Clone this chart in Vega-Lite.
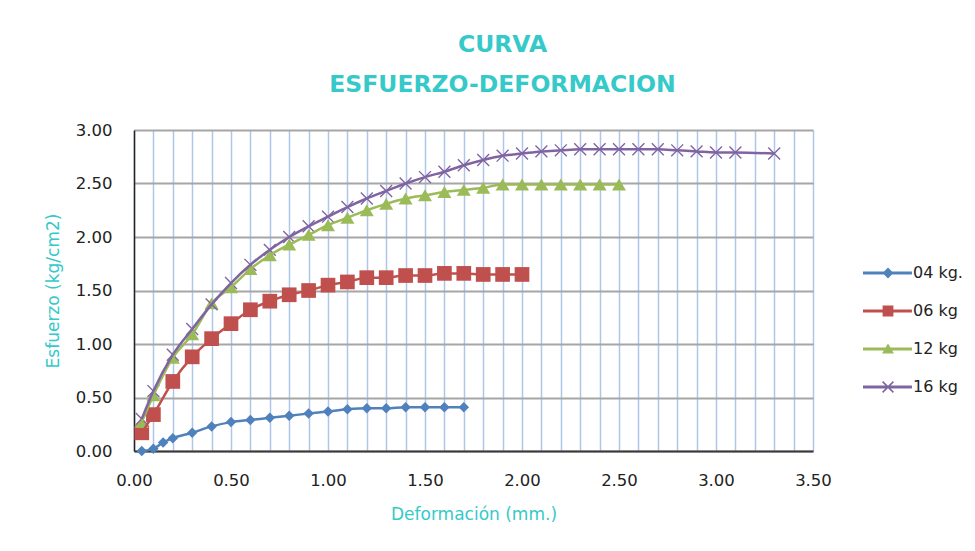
{
  "$schema": "https://vega.github.io/schema/vega-lite/v6.json",
  "width": 679,
  "height": 321,
  "autosize": {"type": "none"},
  "padding": {"left": 134, "top": 130, "right": 162, "bottom": 100},
  "background": "white",
  "config": {
    "view": {"stroke": null},
    "font": "DejaVu Sans"
  },
  "title": {
    "text": ["CURVA", "ESFUERZO-DEFORMACION"],
    "anchor": "middle",
    "frame": "group",
    "font": "DejaVu Sans",
    "fontSize": 23.5,
    "fontWeight": "bold",
    "color": "#36C9C9",
    "lineHeight": 39.5,
    "offset": 26,
    "dx": 29
  },
  "data": {
    "values": [
      {"series": "04 kg.", "x": 0.04, "y": 0.0},
      {"series": "04 kg.", "x": 0.1, "y": 0.02},
      {"series": "04 kg.", "x": 0.15, "y": 0.08},
      {"series": "04 kg.", "x": 0.2, "y": 0.12},
      {"series": "04 kg.", "x": 0.3, "y": 0.17},
      {"series": "04 kg.", "x": 0.4, "y": 0.23},
      {"series": "04 kg.", "x": 0.5, "y": 0.27},
      {"series": "04 kg.", "x": 0.6, "y": 0.29},
      {"series": "04 kg.", "x": 0.7, "y": 0.31},
      {"series": "04 kg.", "x": 0.8, "y": 0.33},
      {"series": "04 kg.", "x": 0.9, "y": 0.35},
      {"series": "04 kg.", "x": 1.0, "y": 0.37},
      {"series": "04 kg.", "x": 1.1, "y": 0.39},
      {"series": "04 kg.", "x": 1.2, "y": 0.4},
      {"series": "04 kg.", "x": 1.3, "y": 0.4},
      {"series": "04 kg.", "x": 1.4, "y": 0.41},
      {"series": "04 kg.", "x": 1.5, "y": 0.41},
      {"series": "04 kg.", "x": 1.6, "y": 0.41},
      {"series": "04 kg.", "x": 1.7, "y": 0.41},
      {"series": "06 kg", "x": 0.04, "y": 0.17},
      {"series": "06 kg", "x": 0.1, "y": 0.34},
      {"series": "06 kg", "x": 0.2, "y": 0.65},
      {"series": "06 kg", "x": 0.3, "y": 0.88},
      {"series": "06 kg", "x": 0.4, "y": 1.05},
      {"series": "06 kg", "x": 0.5, "y": 1.19},
      {"series": "06 kg", "x": 0.6, "y": 1.32},
      {"series": "06 kg", "x": 0.7, "y": 1.4},
      {"series": "06 kg", "x": 0.8, "y": 1.46},
      {"series": "06 kg", "x": 0.9, "y": 1.5},
      {"series": "06 kg", "x": 1.0, "y": 1.55},
      {"series": "06 kg", "x": 1.1, "y": 1.58},
      {"series": "06 kg", "x": 1.2, "y": 1.62},
      {"series": "06 kg", "x": 1.3, "y": 1.62},
      {"series": "06 kg", "x": 1.4, "y": 1.64},
      {"series": "06 kg", "x": 1.5, "y": 1.64},
      {"series": "06 kg", "x": 1.6, "y": 1.66},
      {"series": "06 kg", "x": 1.7, "y": 1.66},
      {"series": "06 kg", "x": 1.8, "y": 1.65},
      {"series": "06 kg", "x": 1.9, "y": 1.65},
      {"series": "06 kg", "x": 2.0, "y": 1.65},
      {"series": "12 kg", "x": 0.04, "y": 0.27},
      {"series": "12 kg", "x": 0.1, "y": 0.52},
      {"series": "12 kg", "x": 0.2, "y": 0.87},
      {"series": "12 kg", "x": 0.3, "y": 1.09},
      {"series": "12 kg", "x": 0.4, "y": 1.38},
      {"series": "12 kg", "x": 0.5, "y": 1.53},
      {"series": "12 kg", "x": 0.6, "y": 1.7},
      {"series": "12 kg", "x": 0.7, "y": 1.83},
      {"series": "12 kg", "x": 0.8, "y": 1.93},
      {"series": "12 kg", "x": 0.9, "y": 2.02},
      {"series": "12 kg", "x": 1.0, "y": 2.11},
      {"series": "12 kg", "x": 1.1, "y": 2.18},
      {"series": "12 kg", "x": 1.2, "y": 2.25},
      {"series": "12 kg", "x": 1.3, "y": 2.31},
      {"series": "12 kg", "x": 1.4, "y": 2.36},
      {"series": "12 kg", "x": 1.5, "y": 2.39},
      {"series": "12 kg", "x": 1.6, "y": 2.42},
      {"series": "12 kg", "x": 1.7, "y": 2.44},
      {"series": "12 kg", "x": 1.8, "y": 2.46},
      {"series": "12 kg", "x": 1.9, "y": 2.49},
      {"series": "12 kg", "x": 2.0, "y": 2.49},
      {"series": "12 kg", "x": 2.1, "y": 2.49},
      {"series": "12 kg", "x": 2.2, "y": 2.49},
      {"series": "12 kg", "x": 2.3, "y": 2.49},
      {"series": "12 kg", "x": 2.4, "y": 2.49},
      {"series": "12 kg", "x": 2.5, "y": 2.49},
      {"series": "16 kg", "x": 0.04, "y": 0.3},
      {"series": "16 kg", "x": 0.1, "y": 0.56},
      {"series": "16 kg", "x": 0.2, "y": 0.9},
      {"series": "16 kg", "x": 0.3, "y": 1.14},
      {"series": "16 kg", "x": 0.4, "y": 1.37},
      {"series": "16 kg", "x": 0.5, "y": 1.57},
      {"series": "16 kg", "x": 0.6, "y": 1.74},
      {"series": "16 kg", "x": 0.7, "y": 1.88},
      {"series": "16 kg", "x": 0.8, "y": 2.0},
      {"series": "16 kg", "x": 0.9, "y": 2.1},
      {"series": "16 kg", "x": 1.0, "y": 2.19},
      {"series": "16 kg", "x": 1.1, "y": 2.28},
      {"series": "16 kg", "x": 1.2, "y": 2.36},
      {"series": "16 kg", "x": 1.3, "y": 2.43},
      {"series": "16 kg", "x": 1.4, "y": 2.5},
      {"series": "16 kg", "x": 1.5, "y": 2.56},
      {"series": "16 kg", "x": 1.6, "y": 2.61},
      {"series": "16 kg", "x": 1.7, "y": 2.67},
      {"series": "16 kg", "x": 1.8, "y": 2.72},
      {"series": "16 kg", "x": 1.9, "y": 2.76},
      {"series": "16 kg", "x": 2.0, "y": 2.78},
      {"series": "16 kg", "x": 2.1, "y": 2.8},
      {"series": "16 kg", "x": 2.2, "y": 2.81},
      {"series": "16 kg", "x": 2.3, "y": 2.82},
      {"series": "16 kg", "x": 2.4, "y": 2.82},
      {"series": "16 kg", "x": 2.5, "y": 2.82},
      {"series": "16 kg", "x": 2.6, "y": 2.82},
      {"series": "16 kg", "x": 2.7, "y": 2.82},
      {"series": "16 kg", "x": 2.8, "y": 2.81},
      {"series": "16 kg", "x": 2.9, "y": 2.8},
      {"series": "16 kg", "x": 3.0, "y": 2.79},
      {"series": "16 kg", "x": 3.1, "y": 2.79},
      {"series": "16 kg", "x": 3.3, "y": 2.78}
    ]
  },
  "encoding": {
    "x": {
      "field": "x",
      "type": "quantitative",
      "scale": {"domain": [0, 3.5], "nice": false, "zero": true},
      "axis": {
        "title": "Deformación (mm.)",
        "values": [0, 0.1, 0.2, 0.3, 0.4, 0.5, 0.6, 0.7, 0.8, 0.9, 1.0, 1.1, 1.2, 1.3, 1.4, 1.5, 1.6, 1.7, 1.8, 1.9, 2.0, 2.1, 2.2, 2.3, 2.4, 2.5, 2.6, 2.7, 2.8, 2.9, 3.0, 3.1, 3.2, 3.3, 3.4, 3.5],
        "labelExpr": "abs(datum.value * 2 - round(datum.value * 2)) < 0.001 ? format(datum.value, '.2f') : ''",
        "ticks": false,
        "grid": true,
        "gridColor": "#aec6ea",
        "gridWidth": 1.5,
        "domainColor": "#3a3a3a",
        "domainWidth": 2,
        "labelFont": "DejaVu Sans",
        "labelFontSize": 16.5,
        "labelColor": "#222222",
        "labelPadding": 21,
        "labelFlush": false,
        "labelOverlap": false,
        "titleFont": "DejaVu Sans",
        "titleFontSize": 17,
        "titleFontWeight": "normal",
        "titleColor": "#36C9C9",
        "titlePadding": 18
      }
    },
    "y": {
      "field": "y",
      "type": "quantitative",
      "scale": {"domain": [0, 3], "nice": false, "zero": true},
      "axis": {
        "title": "Esfuerzo  (kg/cm2)",
        "values": [0, 0.5, 1.0, 1.5, 2.0, 2.5, 3.0],
        "format": ".2f",
        "ticks": false,
        "grid": true,
        "gridColor": "#a6a6a6",
        "gridWidth": 2,
        "domainColor": "#222222",
        "domainWidth": 1.5,
        "labelFont": "DejaVu Sans",
        "labelFontSize": 16.5,
        "labelColor": "#222222",
        "labelPadding": 22,
        "labelOverlap": false,
        "titleFont": "DejaVu Sans",
        "titleFontSize": 17,
        "titleFontWeight": "normal",
        "titleColor": "#36C9C9",
        "titlePadding": 13
      }
    },
    "color": {
      "field": "series",
      "type": "nominal",
      "scale": {"domain": ["04 kg.", "06 kg", "12 kg", "16 kg"], "range": ["#4F81BD", "#C0504D", "#9BBB59", "#8064A2"]}
    }
  },
  "layer": [
    {
      "transform": [{"filter": {"field": "series", "equal": "04 kg."}}],
      "mark": {"type": "point", "filled": true, "opacity": 1, "size": 196, "shape": "M0,-0.75L0.75,0L0,0.75L-0.75,0Z"}
    },
    {
      "transform": [{"filter": {"field": "series", "equal": "06 kg"}}],
      "mark": {"type": "point", "filled": true, "opacity": 1, "size": 196, "shape": "M-1.05,-1.05H1.05V1.05H-1.05Z"}
    },
    {
      "transform": [{"filter": {"field": "series", "equal": "12 kg"}}],
      "mark": {"type": "point", "filled": true, "opacity": 1, "size": 196, "shape": "M0,-0.85L1,0.85L-1,0.85Z"}
    },
    {
      "transform": [{"filter": {"field": "series", "equal": "16 kg"}}],
      "mark": {"type": "point", "filled": true, "opacity": 1, "size": 196, "shape": "M-0.78,-0.92L0.92,0.78L0.78,0.92L-0.92,-0.78Z M0.78,-0.92L0.92,-0.78L-0.78,0.92L-0.92,0.78Z"}
    },
    {
      "mark": {"type": "line", "strokeWidth": 2.5, "interpolate": "monotone"}
    },
    {
      "mark": {"type": "point", "filled": true, "opacity": 0, "size": 1296},
      "encoding": {
        "color": {
          "field": "series",
          "type": "nominal",
          "legend": {
            "title": null,
            "orient": "none",
            "legendX": 736,
            "legendY": 125,
            "padding": 0,
            "labelFont": "DejaVu Sans",
            "labelFontSize": 16,
            "labelColor": "#222222",
            "labelOffset": 7,
            "rowPadding": 12,
            "symbolSize": 1296,
            "symbolStrokeWidth": 0,
            "symbolOpacity": 1,
            "encode": {"symbols": {"update": {"opacity": {"value": 1}}}}
          }
        },
        "shape": {
          "field": "series",
          "type": "nominal",
          "scale": {
            "domain": ["04 kg.", "06 kg", "12 kg", "16 kg"],
            "range": [
              "M-1.39,-0.08H1.33V0.08H-1.39Z M0,-0.3L0.3,0L0,0.3L-0.3,0Z",
              "M-1.39,-0.08H1.33V0.08H-1.39Z M-0.3,-0.3H0.3V0.3H-0.3Z",
              "M-1.39,-0.08H1.33V0.08H-1.39Z M0,-0.3L0.33,0.25L-0.33,0.25Z",
              "M-1.39,-0.08H1.33V0.08H-1.39Z M-0.27,-0.33L0.33,0.27L0.27,0.33L-0.33,-0.27Z M0.27,-0.33L0.33,-0.27L-0.27,0.33L-0.33,0.27Z"
            ]
          },
          "legend": {
            "title": null,
            "orient": "none",
            "legendX": 736,
            "legendY": 125,
            "padding": 0,
            "labelFont": "DejaVu Sans",
            "labelFontSize": 16,
            "labelColor": "#222222",
            "labelOffset": 7,
            "rowPadding": 12,
            "symbolSize": 1296,
            "symbolStrokeWidth": 0,
            "symbolOpacity": 1,
            "encode": {"symbols": {"update": {"opacity": {"value": 1}}}}
          }
        }
      }
    }
  ]
}
